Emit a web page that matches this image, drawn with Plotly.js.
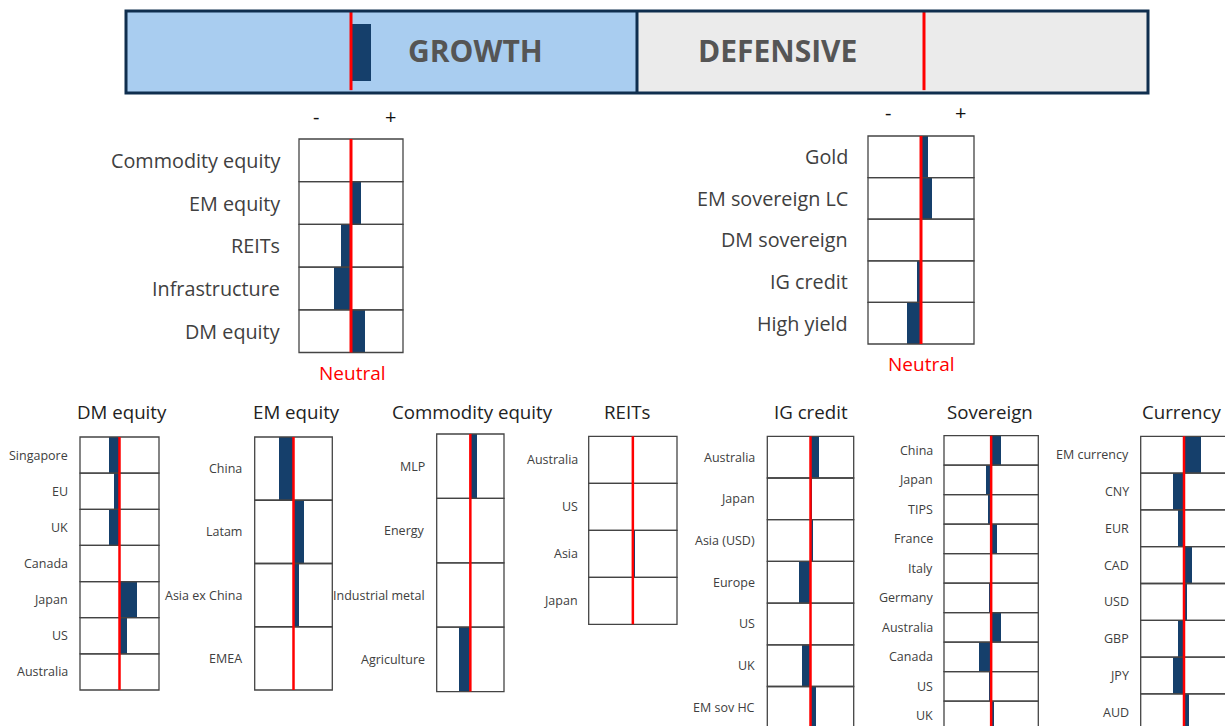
<!DOCTYPE html>
<html>
<head>
<meta charset="utf-8">
<script src="https://cdn.plot.ly/plotly-3.0.1.min.js"></script>
<style>html,body{margin:0;padding:0;background:#fff;}#chart{width:1225px;height:726px;}</style>
</head>
<body>
<div id="chart"></div>
<script>
// ---------- DATA ----------
const bannerCats = ['Growth', 'Defensive'];
const bannerLabels = ['GROWTH', 'DEFENSIVE'];
const bannerVals = [0.2, 0];

const growthCats = ['Commodity equity', 'EM equity', 'REITs', 'Infrastructure', 'DM equity'];
const growthVals = [0.02, 0.19, -0.19, -0.33, 0.27];

const defensiveCats = ['Gold', 'EM sovereign LC', 'DM sovereign', 'IG credit', 'High yield'];
const defensiveVals = [0.13, 0.21, 0, -0.07, -0.27];

const dmCats = ['Singapore', 'EU', 'UK', 'Canada', 'Japan', 'US', 'Australia'];
const dmVals = [-0.26, -0.13, -0.27, 0, 0.45, 0.19, 0];

const emCats = ['China', 'Latam', 'Asia ex China', 'EMEA'];
const emVals = [-0.38, 0.27, 0.13, 0];

const commodityCats = ['MLP', 'Energy', 'Industrial metal', 'Agriculture'];
const commodityVals = [0.19, 0.03, 0.03, -0.34];

const reitCats = ['Australia', 'US', 'Asia', 'Japan'];
const reitVals = [0, 0, 0.05, 0];

const igCats = ['Australia', 'Japan', 'Asia (USD)', 'Europe', 'US', 'UK', 'EM sov HC'];
const igVals = [0.2, 0.04, 0.05, -0.26, 0, -0.19, 0.13];

const sovCats = ['China', 'Japan', 'TIPS', 'France', 'Italy', 'Germany', 'Australia', 'Canada', 'US', 'UK'];
const sovVals = [0.21, -0.11, -0.06, 0.13, 0, -0.05, 0.21, -0.26, -0.05, 0.06];

const curCats = ['EM currency', 'CNY', 'EUR', 'CAD', 'USD', 'GBP', 'JPY', 'AUD'];
const curVals = [0.40, -0.26, -0.13, 0.19, 0.06, -0.13, -0.26, 0.12];

const panelTitles = ['DM equity', 'EM equity', 'Commodity equity', 'REITs', 'IG credit', 'Sovereign', 'Currency'];

// ---------- LAYOUT / STYLE ----------
const W = 1225, H = 726, PAD = 2;
const NAVY = '#153F6B', RED = '#FF0000', CELL = '#444444', TXT = '#404040';
const FONT = 'Open Sans, Noto Sans, sans-serif';

const panels = [
  {cats: growthCats, vals: growthVals, x0: 299, x1: 403, top: 139, rowH: 42.7, lab: 282, fs: 19.8, red: 3},
  {cats: defensiveCats, vals: defensiveVals, x0: 868, x1: 974, top: 136, rowH: 41.6, lab: 850, fs: 19.8, red: 3},
  {cats: dmCats, vals: dmVals, x0: 80, x1: 159, top: 437, rowH: 36.14, lab: 70, fs: 12.5, red: 2.5, title: panelTitles[0], tx: 121.5},
  {cats: emCats, vals: emVals, x0: 254.7, x1: 332.3, top: 437, rowH: 63.25, lab: 244, fs: 12.5, red: 2.5, title: panelTitles[1], tx: 296.5},
  {cats: commodityCats, vals: commodityVals, x0: 436.7, x1: 504, top: 434, rowH: 64.4, lab: 427, fs: 12.5, red: 2.5, title: panelTitles[2], tx: 472},
  {cats: reitCats, vals: reitVals, x0: 588.7, x1: 677, top: 436.3, rowH: 47, lab: 579.7, fs: 12.5, red: 2.5, title: panelTitles[3], tx: 627},
  {cats: igCats, vals: igVals, x0: 767.3, x1: 853.7, top: 436.3, rowH: 41.7, lab: 757.3, fs: 12.5, red: 2.5, title: panelTitles[4], tx: 811},
  {cats: sovCats, vals: sovVals, x0: 944, x1: 1038.3, top: 435.7, rowH: 29.5, lab: 934.7, fs: 12.5, red: 2.5, title: panelTitles[5], tx: 990},
  {cats: curCats, vals: curVals, x0: 1140.7, x1: 1227.3, top: 436.3, rowH: 36.8, lab: 1131, fs: 12.5, red: 2.5, title: panelTitles[6], tx: 1181}
];

const data = [];
const shapes = [];
const annotations = [];
const layout = {
  width: W, height: H,
  margin: {l: 0, r: 0, t: 0, b: 0, pad: 0},
  paper_bgcolor: '#ffffff', plot_bgcolor: 'rgba(0,0,0,0)',
  showlegend: false,
  font: {family: FONT, color: TXT},
  bargap: 0
};

function hideAxis(extra) {
  return Object.assign({showticklabels: false, showgrid: false, zeroline: false, showline: false, ticks: '', fixedrange: true}, extra);
}

panels.forEach((p, i) => {
  const k = i + 1;
  const xa = 'x' + k, ya = 'y' + k;
  const n = p.cats.length;
  const c = (p.x0 + p.x1) / 2, half = (p.x1 - p.x0) / 2;
  const L = Math.max(p.x0 - PAD, 0), R = Math.min(p.x1 + PAD, W);
  const T = p.top - PAD, B = Math.min(p.top + n * p.rowH + PAD, H);
  layout['xaxis' + k] = hideAxis({domain: [L / W, R / W], range: [(L - c) / half, (R - c) / half], anchor: ya});
  layout['yaxis' + k] = hideAxis({
    domain: [1 - B / H, 1 - T / H], type: 'category', categoryarray: p.cats, categoryorder: 'array',
    range: [(B - p.top) / p.rowH - 0.5, (T - p.top) / p.rowH - 0.5], anchor: xa
  });
  data.push({
    type: 'bar', orientation: 'h', x: p.vals, y: p.cats, xaxis: xa, yaxis: ya,
    width: 1, marker: {color: NAVY, line: {width: 0}}, hoverinfo: 'skip'
  });
  p.cats.forEach((cat, j) => {
    shapes.push({type: 'rect', xref: xa, yref: ya, x0: -1, x1: 1, y0: j - 0.5, y1: j + 0.5,
      line: {color: CELL, width: 1.3}, fillcolor: 'rgba(0,0,0,0)', layer: 'above'});
    annotations.push({xref: 'paper', yref: ya, x: p.lab / W, y: j, xanchor: 'right', yanchor: 'middle',
      text: cat, showarrow: false, font: {size: p.fs, color: TXT, family: FONT}});
  });
  shapes.push({type: 'line', xref: xa, yref: ya, x0: 0, x1: 0, y0: -0.5, y1: n - 0.5,
    line: {color: RED, width: p.red}, layer: 'above'});
  if (p.title) {
    annotations.push({xref: 'paper', yref: 'paper', x: p.tx / W, y: 1 - 412 / H, xanchor: 'center', yanchor: 'middle',
      text: p.title, showarrow: false, font: {size: 18.7, color: '#222222', family: FONT}});
  }
});

// "-", "+" and "Neutral" markers for the two summary panels
[[316, 390, 116, 352.5, 373], [888, 960, 113, 921.5, 364]].forEach(m => {
  const base = {xref: 'paper', yref: 'paper', showarrow: false, xanchor: 'center', yanchor: 'middle'};
  annotations.push(Object.assign({}, base, {x: m[0] / W, y: 1 - m[2] / H, text: '-',
    font: {size: 20, color: '#111111', family: FONT}}));
  annotations.push(Object.assign({}, base, {x: m[1] / W, y: 1 - m[2] / H, text: '+',
    font: {size: 20, color: '#111111', family: FONT}}));
  annotations.push(Object.assign({}, base, {x: m[3] / W, y: 1 - m[4] / H, text: 'Neutral',
    font: {size: 19, color: RED, family: FONT}}));
});

// ---------- BANNER ----------
const banner = [
  {x0: 126, x1: 637, neutral: 351, fill: '#A9CDF0', textX: 475},
  {x0: 637, x1: 1148, neutral: 924, fill: '#EBEBEB', textX: 777.5}
];
const bTop = 11, bBot = 93, unit = 100;
banner.forEach((b, i) => {
  const k = panels.length + 1 + i;
  const xa = 'x' + k, ya = 'y' + k;
  layout['xaxis' + k] = hideAxis({domain: [b.x0 / W, b.x1 / W], range: [(b.x0 - b.neutral) / unit, (b.x1 - b.neutral) / unit], anchor: ya});
  layout['yaxis' + k] = hideAxis({domain: [1 - bBot / H, 1 - bTop / H], type: 'category', range: [-0.5, 0.5], anchor: xa});
  shapes.push({type: 'rect', xref: xa + ' domain', yref: ya + ' domain', x0: 0, x1: 1, y0: 0, y1: 1,
    fillcolor: b.fill, line: {width: 0}, layer: 'below'});
  data.push({type: 'bar', orientation: 'h', x: [bannerVals[i]], y: [bannerCats[i]], xaxis: xa, yaxis: ya,
    width: 0.695, marker: {color: NAVY, line: {width: 0}}, hoverinfo: 'skip'});
  shapes.push({type: 'line', xref: xa, yref: ya + ' domain', x0: 0, x1: 0, y0: 0.035, y1: 0.99,
    line: {color: RED, width: 3}, layer: 'above'});
  annotations.push({xref: 'paper', yref: 'paper', x: b.textX / W, y: 1 - 51 / H, text: '<b>' + bannerLabels[i] + '</b>',
    showarrow: false, xanchor: 'center', yanchor: 'middle', font: {size: 30, color: '#555555', family: FONT}});
});
shapes.push({type: 'rect', xref: 'paper', yref: 'paper', x0: 126 / W, x1: 1148 / W, y0: 1 - 93 / H, y1: 1 - 11 / H,
  line: {color: '#0F2E4E', width: 3}, fillcolor: 'rgba(0,0,0,0)', layer: 'above'});
shapes.push({type: 'line', xref: 'paper', yref: 'paper', x0: 637 / W, x1: 637 / W, y0: 1 - 93 / H, y1: 1 - 11 / H,
  line: {color: '#0F2E4E', width: 3}, layer: 'above'});

layout.shapes = shapes;
layout.annotations = annotations;

Plotly.newPlot('chart', data, layout, {staticPlot: true, displayModeBar: false});
</script>
</body>
</html>
